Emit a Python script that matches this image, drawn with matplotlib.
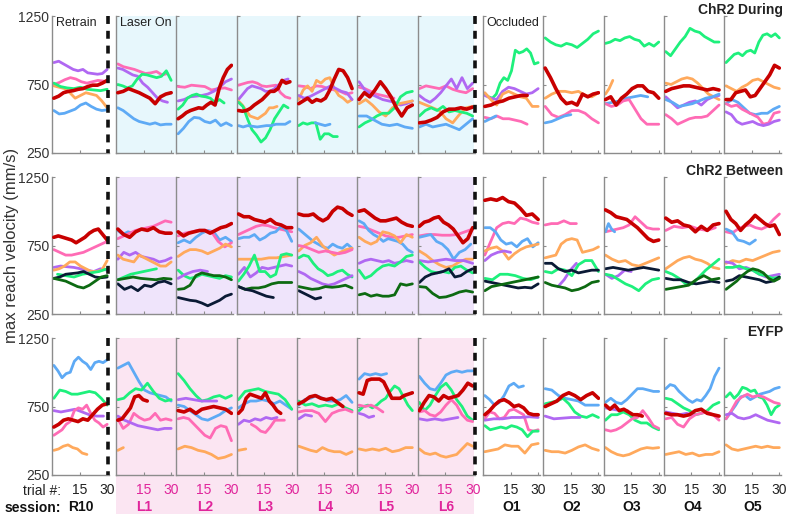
import numpy as np
import matplotlib
matplotlib.use("Agg")
import matplotlib.pyplot as plt
from matplotlib.patches import Rectangle

plt.rcParams['font.family'] = ['Liberation Sans', 'DejaVu Sans']

# ---------------- data ----------------
sessions = ["R10", "L1", "L2", "L3", "L4", "L5", "L6", "O1", "O2", "O3", "O4", "O5"]
group_titles = ["ChR2 During", "ChR2 Between", "EYFP"]
xtick_vals = [15, 30]
ytick_vals = [250, 750, 1250]

# each line: (animal colour, first trial, last trial, values)
# ----- ChR2 During -----
during_R10 = [
    ("purple", 1, 30, [910, 920, 900, 880, 860, 850, 860, 835, 830, 825, 830, 860]),
    ("pink", 1, 28, [750, 765, 785, 800, 790, 770, 760, 770, 780, 775]),
    ("orange", 1, 30, [740, 730, 720, 690, 650, 670, 690, 680, 670, 630, 580]),
    ("green", 1, 30, [760, 735, 725, 720, 730, 715, 710, 705, 715]),
    ("blue", 1, 30, [560, 535, 540, 555, 570, 600, 615, 590, 570, 560, 565]),
    ("red", 1, 30, [650, 665, 690, 700, 705, 715, 720, 735, 745, 745, 760, 780]),
]
during_L1 = [
    ("pink", 1, 28, [900, 880, 870, 860, 845, 830, 835, 845, 820, 830]),
    ("purple", 1, 28, [870, 860, 840, 820, 810, 760, 730, 690, 650, 630, 620]),
    ("green", 1, 30, [750, 740, 725, 740, 790, 825, 820, 810, 800, 810, 850, 780]),
    ("blue", 1, 30, [580, 560, 530, 500, 480, 470, 460, 470, 455, 460, 460]),
    ("red", 1, 30, [690, 700, 720, 705, 690, 670, 650, 610, 660, 680, 690]),
]
during_L2 = [
    ("pink", 1, 30, [735, 730, 745, 740, 735, 710, 720, 725, 710]),
    ("purple", 1, 30, [630, 640, 660, 665, 670, 680, 700, 730, 770, 790]),
    ("green", 1, 26, [570, 600, 650, 670, 680, 665, 660, 650, 620, 640, 615]),
    ("blue", 1, 30, [390, 430, 480, 510, 505, 480, 470, 490, 450, 470, 450]),
    ("red", 1, 30, [500, 520, 545, 560, 570, 580, 575, 600, 620, 600, 720, 800, 860, 890]),
]
during_L3 = [
    ("pink", 1, 29, [745, 755, 765, 770, 760, 740, 735, 740, 745, 690, 660, 650]),
    ("purple", 1, 28, [640, 680, 720, 740, 730, 720, 700, 700, 720, 750, 780, 790]),
    ("orange", 1, 22, [630, 600, 560, 520, 510, 500, 520, 540, 580, 580, 590]),
    ("green", 1, 28, [620, 590, 500, 420, 380, 330, 360, 420, 500, 550, 600, 580]),
    ("blue", 1, 29, [450, 440, 450, 445, 440, 445, 450, 450, 460, 460, 460, 480]),
    ("red", 1, 29, [560, 555, 560, 575, 600, 620, 640, 670, 700, 700, 720, 780, 760, 770]),
]
during_L4 = [
    ("pink", 1, 30, [740, 735, 720, 740, 735, 720, 710, 700, 680, 690]),
    ("orange", 1, 30, [640, 710, 740, 700, 780, 760, 790, 800, 720, 670, 650, 620, 640]),
    ("purple", 1, 30, [670, 650, 660, 680, 700, 720, 740, 720, 700, 690, 640]),
    ("green", 1, 22, [450, 470, 460, 470, 470, 350, 390, 390, 370, 370]),
    ("blue", 10, 18, [470, 460, 450, 460]),
    ("red", 1, 30, [610, 630, 650, 620, 640, 630, 650, 710, 790, 860, 850, 800, 720]),
]
during_L5 = [
    ("pink", 1, 20, [730, 720, 700, 680, 670, 660, 650]),
    ("purple", 1, 30, [770, 710, 680, 660, 640, 630, 620, 600, 610, 630]),
    ("orange", 1, 30, [610, 640, 600, 550, 520, 580, 610, 620, 630]),
    ("green", 1, 30, [440, 470, 490, 520, 540, 540, 580, 660, 690, 700]),
    ("blue", 1, 30, [520, 520, 490, 460, 450, 460, 440, 430]),
    ("red", 1, 30, [640, 690, 660, 710, 770, 720, 660, 580, 520, 580, 600]),
]
during_L6 = [
    ("pink", 1, 30, [720, 740, 730, 720, 740, 715, 700, 690, 720]),
    ("purple", 1, 30, [670, 640, 620, 650, 690, 740, 790, 720, 800, 720, 760]),
    ("orange", 1, 30, [620, 600, 580, 560, 500, 470, 530, 580, 590]),
    ("green", 1, 30, [520, 560, 580, 560, 590, 550, 560, 550, 540, 520]),
    ("blue", 1, 30, [440, 460, 440, 450, 460, 440, 420, 460, 500]),
    ("red", 1, 30, [470, 475, 490, 510, 550, 570, 570, 580, 570, 585]),
]
during_O1 = [
    ("green", 1, 30, [680, 660, 650, 680, 760, 800, 780, 850, 1000, 980, 990, 1010, 980, 900, 910]),
    ("purple", 1, 30, [670, 650, 640, 700, 730, 720, 700, 680, 690, 720]),
    ("orange", 1, 30, [690, 640, 600, 680, 700, 680, 660, 650, 590, 590]),
    ("pink", 1, 24, [510, 500, 520, 500, 500, 490, 480, 460]),
    ("blue", 1, 7, [480, 500, 520]),
    ("red", 1, 24, [590, 600, 620, 630, 650, 660, 670, 670]),
]
during_O2 = [
    ("green", 1, 30, [1090, 1060, 1040, 1030, 1050, 1040, 1020, 1050, 1080, 1120, 1140]),
    ("orange", 1, 30, [650, 680, 700, 700, 690, 700, 670, 660, 690]),
    ("pink", 1, 30, [590, 530, 510, 530, 560, 560, 540, 500, 470]),
    ("blue", 1, 15, [470, 480, 500, 520, 530]),
    ("red", 1, 30, [870, 800, 720, 650, 610, 620, 600, 680, 660, 680, 690]),
]
during_O3 = [
    ("green", 1, 30, [1050, 1060, 1080, 1070, 1090, 1100, 1080, 1070, 1030, 1050, 1030, 1060]),
    ("orange", 1, 5, [680, 720, 780]),
    ("blue", 1, 24, [610, 620, 630, 650, 660, 670, 660]),
    ("pink", 1, 30, [610, 590, 600, 630, 640, 570, 500, 460, 460, 460]),
    ("red", 1, 30, [640, 660, 600, 650, 680, 720, 740, 740, 700, 690, 650]),
]
during_O4 = [
    ("green", 1, 30, [990, 960, 1010, 1060, 1100, 1160, 1140, 1130, 1100, 1080, 1060, 1060]),
    ("orange", 1, 30, [760, 750, 770, 790, 800, 790, 760, 720, 680, 660, 640]),
    ("purple", 1, 30, [660, 620, 580, 600, 620, 630, 600, 640, 660, 670]),
    ("blue", 1, 30, [640, 620, 590, 600, 610, 630, 650, 660, 680]),
    ("pink", 1, 30, [530, 500, 460, 480, 500, 510, 510, 520, 560, 600]),
    ("red", 1, 30, [700, 720, 730, 740, 740, 730, 720, 710, 720, 710]),
]
during_O5 = [
    ("green", 1, 30, [910, 940, 970, 980, 960, 990, 1000, 980, 1060, 1110, 1120, 1100, 1120, 1090]),
    ("orange", 1, 30, [740, 720, 700, 730, 750, 780, 790, 770, 750, 730, 720]),
    ("blue", 1, 30, [610, 640, 620, 580, 540, 530, 540, 540, 570, 590]),
    ("pink", 1, 30, [610, 590, 600, 570, 550, 530, 510, 460, 470, 540, 550]),
    ("purple", 1, 30, [550, 530, 480, 460, 470, 480, 460, 450, 460, 480, 490]),
    ("red", 1, 30, [640, 640, 690, 700, 710, 660, 670, 720, 770, 820, 890, 870]),
]

# ----- ChR2 Between -----
between_R10 = [
    ("pink", 1, 30, [720, 700, 680, 680, 690, 700, 720, 740, 760, 780]),
    ("purple", 1, 30, [590, 600, 595, 590, 580, 570, 560, 580, 570]),
    ("orange", 1, 30, [570, 580, 600, 630, 630, 600, 580, 560, 560, 570, 640]),
    ("green", 3, 30, [540, 530, 520, 540, 550, 560, 580]),
    ("navy", 1, 30, [510, 520, 540, 545, 550, 560, 540, 520, 515, 520]),
    ("dkgreen", 1, 30, [510, 500, 490, 470, 450, 440, 460, 490, 520, 530]),
    ("red", 1, 30, [810, 820, 810, 800, 790, 770, 790, 810, 840, 860, 870, 830, 790]),
]
between_L1 = [
    ("blue", 1, 12, [860, 830, 850, 840, 860]),
    ("pink", 1, 30, [800, 820, 840, 860, 870, 880, 890, 910, 930, 920]),
    ("purple", 1, 30, [650, 700, 680, 700, 670, 660, 650, 630, 640, 660]),
    ("orange", 1, 30, [680, 650, 640, 630, 680, 660, 640, 620, 600, 600, 630]),
    ("green", 1, 22, [500, 520, 540, 550, 560, 570, 580]),
    ("dkgreen", 1, 30, [500, 510, 520, 510, 505, 500, 510, 505]),
    ("navy", 1, 30, [470, 430, 450, 420, 460, 450, 480, 490, 470]),
    ("red", 1, 30, [870, 830, 810, 850, 870, 860, 880, 850, 840, 840]),
]
between_L2 = [
    ("blue", 1, 30, [770, 790, 770, 810, 840, 860, 850, 790, 810, 780]),
    ("pink", 1, 30, [820, 840, 850, 860, 860, 850, 780, 740, 770]),
    ("orange", 1, 30, [670, 700, 720, 720, 710, 690, 710, 730, 760, 740]),
    ("green", 1, 30, [570, 530, 510, 520, 540, 530, 520, 510, 530, 520]),
    ("purple", 1, 17, [510, 540, 560, 570, 560]),
    ("dkgreen", 1, 30, [430, 435, 460, 530, 550, 540, 530, 530, 520, 500]),
    ("navy", 1, 30, [370, 360, 350, 345, 330, 310, 330, 350, 380, 395]),
    ("red", 1, 30, [850, 820, 840, 850, 860, 860, 840, 860, 880, 890, 910]),
]
between_L3 = [
    ("pink", 1, 30, [830, 850, 870, 890, 900, 895, 880, 870, 860, 850]),
    ("blue", 1, 30, [800, 810, 810, 830, 790, 810, 840, 850, 890, 860, 780]),
    ("orange", 1, 30, [650, 650, 650, 650, 660, 660, 670, 680]),
    ("purple", 1, 30, [540, 590, 520, 550, 590, 580, 590, 600, 610, 600]),
    ("green", 1, 30, [490, 540, 600, 680, 560, 560, 520, 540, 680, 690, 680]),
    ("dkgreen", 1, 30, [450, 430, 440, 440, 450, 470, 480, 480, 480]),
    ("navy", 1, 20, [450, 430, 420, 400, 380, 370]),
    ("red", 1, 30, [980, 960, 960, 940, 930, 920, 940, 910, 900, 880, 880]),
]
between_L4 = [
    ("blue", 1, 30, [870, 840, 810, 780, 760, 740, 730, 760, 740, 730, 760, 730]),
    ("orange", 1, 30, [710, 750, 770, 810, 750, 710, 680, 700, 720, 730]),
    ("pink", 1, 30, [750, 740, 720, 700, 710, 700, 690, 700, 720]),
    ("green", 1, 30, [660, 680, 670, 620, 580, 560, 530, 540, 560, 570, 540, 520]),
    ("purple", 1, 30, [560, 540, 510, 490, 470, 460, 470, 490, 510, 530]),
    ("dkgreen", 1, 30, [450, 440, 430, 435, 450, 445, 450, 460, 440]),
    ("navy", 1, 13, [420, 400, 380, 360, 370]),
    ("red", 1, 30, [980, 970, 970, 980, 950, 930, 950, 1000, 1030, 1020, 990, 970]),
]
between_L5 = [
    ("pink", 1, 30, [890, 880, 860, 840, 820, 810, 810, 820, 830]),
    ("blue", 1, 30, [930, 910, 860, 830, 810, 780, 800, 790, 780, 760, 720, 700]),
    ("orange", 1, 30, [810, 780, 760, 780, 850, 840, 820, 770, 830, 810]),
    ("purple", 1, 30, [620, 640, 650, 640, 630, 640, 620, 630, 640, 630]),
    ("green", 1, 30, [570, 510, 530, 570, 600, 610, 600, 630, 670, 680]),
    ("dkgreen", 1, 30, [390, 400, 380, 390, 380, 380, 390, 470, 460, 470]),
    ("red", 1, 30, [1000, 1010, 980, 950, 930, 930, 940, 950, 920, 900, 890]),
]
between_L6 = [
    ("pink", 1, 30, [820, 830, 830, 825, 825, 830, 850, 870]),
    ("blue", 1, 29, [810, 820, 830, 780, 760, 720, 650, 700, 720, 760]),
    ("orange", 1, 30, [710, 680, 640, 610, 590, 600, 630, 650, 650]),
    ("purple", 1, 30, [640, 630, 640, 650, 640, 640, 620]),
    ("green", 1, 30, [630, 590, 560, 550, 560, 550, 590, 600, 570, 550]),
    ("navy", 1, 30, [480, 520, 540, 550, 560, 580, 520, 530, 560, 580]),
    ("dkgreen", 1, 30, [450, 445, 400, 370, 375, 390, 410, 420, 410]),
    ("red", 1, 30, [890, 920, 930, 950, 960, 920, 900, 870, 820, 770, 800, 880]),
]
between_O1 = [
    ("pink", 1, 30, [680, 780, 880, 910, 920, 910, 950, 940, 920, 910]),
    ("blue", 1, 30, [880, 880, 850, 790, 760, 770, 740, 780, 800, 740, 770]),
    ("orange", 1, 30, [710, 730, 740, 710, 650, 690, 720, 740, 750, 760]),
    ("purple", 1, 15, [640, 680, 700, 710, 700]),
    ("green", 1, 30, [510, 500, 540, 540, 530, 510, 500, 520]),
    ("navy", 1, 30, [490, 480, 470, 460, 450, 440, 445, 440, 470]),
    ("dkgreen", 1, 30, [420, 450, 460, 470, 480, 490, 500, 510, 520]),
    ("red", 1, 30, [1080, 1090, 1080, 1100, 1070, 1060, 1020, 970, 980, 940]),
]
between_O2 = [
    ("pink", 1, 18, [900, 910, 910, 930, 910, 910]),
    ("orange", 1, 30, [660, 670, 680, 760, 790, 800, 790, 700, 710, 720, 740]),
    ("purple", 8, 18, [450, 500, 570, 620]),
    ("green", 1, 30, [560, 550, 580, 570, 530, 610, 640, 640, 560]),
    ("navy", 1, 30, [620, 620, 580, 560, 570, 550, 560, 570, 570]),
    ("dkgreen", 1, 30, [480, 460, 450, 440, 420, 430, 450, 480, 490]),
]
between_O3 = [
    ("pink", 1, 30, [850, 860, 870, 880, 900, 960, 920, 880, 870, 870]),
    ("blue", 1, 6, [850, 910, 870, 850]),
    ("orange", 1, 30, [680, 650, 630, 640, 610, 600, 620, 640, 660]),
    ("purple", 1, 15, [540, 510, 530, 570, 560]),
    ("green", 1, 30, [540, 530, 500, 470, 450, 420, 470, 500, 510]),
    ("navy", 1, 30, [580, 590, 580, 570, 580, 590, 580, 570]),
    ("red", 1, 30, [1010, 990, 960, 950, 940, 910, 880, 840, 800, 780, 790]),
]
between_O4 = [
    ("pink", 1, 28, [860, 890, 880, 890, 870, 860, 880]),
    ("orange", 1, 30, [580, 610, 640, 660, 670, 650, 640, 620, 590, 580]),
    ("green", 1, 30, [560, 540, 510, 470, 470, 520, 570, 610, 650]),
    ("navy", 1, 30, [510, 500, 500, 480, 470, 480, 490, 480]),
    ("dkgreen", 1, 30, [430, 440, 450, 460, 500, 530, 500, 510]),
    ("red", 1, 30, [950, 920, 930, 900, 890, 850, 890, 860, 900, 910]),
]
between_O5 = [
    ("pink", 1, 30, [850, 840, 870, 890, 900, 880, 870, 890, 940, 980]),
    ("blue", 1, 17, [870, 850, 790, 780, 760, 790]),
    ("orange", 1, 30, [620, 640, 630, 650, 640, 660, 680, 700, 710]),
    ("purple", 1, 30, [630, 620, 580, 590, 570, 540, 520, 530, 540]),
    ("green", 1, 30, [590, 590, 600, 580, 570, 540, 530, 510, 520]),
    ("navy", 1, 30, [490, 500, 530, 520, 510, 500, 480, 490, 520]),
    ("dkgreen", 1, 30, [430, 460, 490, 530, 560, 580, 570, 550, 510, 490, 510]),
    ("red", 1, 30, [1000, 940, 910, 860, 900, 930, 970, 940, 910, 890, 900, 830]),
]

# ----- EYFP -----
eyfp_R10 = [
    ("blue", 1, 30, [1050, 1010, 960, 990, 1000, 1080, 1110, 1080, 1060, 1020, 1070, 1080, 1070, 1090]),
    ("green", 1, 30, [810, 870, 860, 840, 840, 850, 860, 850, 810, 760]),
    ("purple", 1, 28, [720, 710, 720, 730, 710, 690, 680, 680]),
    ("pink", 1, 30, [540, 560, 580, 620, 640, 720, 740, 730, 760, 700, 650, 630, 600, 620]),
    ("orange", 1, 19, [430, 440, 460, 470, 450, 440, 410, 400]),
    ("red", 1, 30, [600, 620, 650, 660, 650, 640, 660, 650, 690, 730, 760, 770]),
]
eyfp_L1 = [
    ("blue", 1, 30, [1030, 1050, 1070, 1000, 930, 870, 850, 840, 830, 820, 790]),
    ("green", 1, 30, [800, 810, 850, 880, 870, 920, 860, 810, 790, 800]),
    ("pink", 1, 30, [660, 590, 620, 700, 670, 650, 660, 700, 650, 660, 650]),
    ("purple", 1, 30, [680, 650, 630, 610, 600, 590, 580, 590, 590]),
    ("orange", 1, 4, [430, 440, 450]),
    ("red", 1, 17, [650, 660, 700, 740, 820, 830, 800, 790]),
]
eyfp_L2 = [
    ("green", 1, 30, [990, 940, 880, 830, 790, 800, 820, 830, 810, 830]),
    ("purple", 1, 22, [800, 810, 800, 790, 790, 790]),
    ("blue", 1, 30, [760, 750, 720, 690, 660, 650, 670, 690, 720, 740]),
    ("pink", 1, 30, [660, 670, 660, 620, 580, 540, 520, 590, 610, 600, 500]),
    ("orange", 1, 30, [440, 460, 450, 430, 420, 400, 370, 380, 400]),
    ("red", 1, 30, [720, 710, 730, 700, 730, 740, 750, 740, 730, 700]),
]
eyfp_L3 = [
    ("blue", 1, 30, [740, 770, 790, 790, 800, 790, 770, 790, 760, 730]),
    ("green", 1, 30, [800, 860, 870, 880, 860, 850, 840, 800, 730]),
    ("purple", 1, 22, [620, 650, 640, 660, 650, 670, 660, 670]),
    ("pink", 8, 26, [620, 600, 570, 560, 600, 650, 650, 650]),
    ("orange", 1, 5, [430, 440]),
    ("red", 1, 24, [700, 730, 810, 840, 830, 820, 810, 850, 790, 760, 720, 700]),
]
eyfp_L4 = [
    ("blue", 1, 30, [760, 800, 810, 830, 810, 790, 790, 800, 830, 780]),
    ("green", 1, 30, [790, 760, 770, 750, 760, 750, 770, 740, 720]),
    ("pink", 1, 30, [710, 720, 720, 700, 640, 700, 720, 730, 710]),
    ("purple", 1, 8, [660, 690, 680]),
    ("orange", 1, 30, [460, 445, 430, 420, 450, 430, 420, 420, 400, 420]),
    ("red", 1, 25, [770, 790, 820, 830, 810, 800, 810, 780, 750]),
]
eyfp_L5 = [
    ("blue", 1, 16, [950, 990, 980, 990, 980, 990]),
    ("green", 1, 30, [720, 750, 760, 740, 760, 790, 810, 860, 900, 880, 820, 760, 720]),
    ("pink", 1, 14, [760, 750, 760, 740, 710]),
    ("purple", 1, 9, [700, 690, 670, 680]),
    ("orange", 1, 30, [440, 430, 440, 430, 445, 420, 430, 450, 450]),
    ("red", 1, 30, [850, 840, 940, 950, 950, 950, 930, 870, 810, 810, 810, 830, 840, 850]),
]
eyfp_L6 = [
    ("blue", 1, 30, [970, 920, 880, 870, 920, 980, 1000, 1010, 1000, 1010, 1010]),
    ("green", 1, 30, [780, 720, 760, 830, 890, 920, 870, 800, 750, 680, 650]),
    ("pink", 1, 30, [710, 720, 690, 680, 710, 760, 800, 760, 690, 650, 640]),
    ("purple", 1, 22, [660, 650, 660, 650, 660, 670]),
    ("orange", 1, 30, [440, 410, 400, 410, 390, 380, 390, 400, 440, 480, 460]),
    ("red", 1, 30, [720, 780, 830, 820, 790, 830, 810, 820, 830, 870, 920, 900]),
]
eyfp_O1 = [
    ("blue", 1, 22, [830, 800, 760, 780, 830, 900, 920, 890, 900]),
    ("pink", 1, 30, [660, 710, 700, 660, 670, 720, 730, 710, 690, 580, 570, 580]),
    ("purple", 1, 30, [650, 660, 660, 670, 670, 675, 670]),
    ("green", 1, 30, [610, 580, 590, 600, 590, 610, 600, 580, 530, 570, 570]),
    ("orange", 1, 30, [420, 430, 440, 470, 460, 460, 410, 470, 480]),
    ("red", 1, 30, [690, 720, 760, 790, 800, 780, 750, 760, 740, 700, 690, 690]),
]
eyfp_O2 = [
    ("blue", 1, 30, [880, 870, 830, 810, 800, 790, 760, 760, 760]),
    ("green", 1, 30, [770, 780, 790, 810, 770, 710, 680, 670, 690, 670]),
    ("purple", 1, 20, [680, 660, 665, 670, 670]),
    ("orange", 1, 30, [430, 420, 420, 410, 430, 455, 470, 445, 430]),
    ("red", 1, 30, [750, 770, 790, 830, 850, 830, 800, 830, 850, 810]),
]
eyfp_O3 = [
    ("blue", 1, 30, [780, 810, 780, 770, 800, 840, 880, 880, 870, 860, 860]),
    ("purple", 1, 13, [740, 730, 720, 720]),
    ("green", 1, 30, [650, 690, 690, 710, 690, 650, 630, 630, 600, 580]),
    ("pink", 1, 30, [580, 570, 580, 600, 630, 660, 670, 720, 670, 610, 590]),
    ("orange", 1, 30, [450, 420, 400, 390, 400, 420, 440, 450, 445, 450]),
    ("red", 1, 21, [760, 730, 760, 720, 730, 710, 690, 690, 680]),
]
eyfp_O4 = [
    ("blue", 1, 30, [880, 910, 900, 860, 830, 800, 780, 800, 790, 830, 880, 970, 1030]),
    ("green", 1, 30, [810, 800, 770, 740, 720, 690, 700, 720, 760, 780]),
    ("purple", 1, 16, [710, 700, 690, 700, 690]),
    ("pink", 1, 30, [660, 670, 620, 600, 660, 690, 700, 710, 690, 650]),
    ("orange", 1, 30, [400, 410, 420, 400, 410, 390, 400, 400, 420]),
    ("red", 1, 30, [700, 690, 690, 680, 690, 720, 730, 700, 690, 680]),
]
eyfp_O5 = [
    ("green", 1, 30, [820, 850, 810, 840, 890, 880, 860, 870, 820, 810, 760, 690, 740, 760]),
    ("blue", 1, 30, [660, 710, 760, 820, 830, 800, 820, 840, 850, 860, 880, 890]),
    ("pink", 1, 30, [660, 720, 790, 820, 840, 820, 830, 820, 800, 780, 770]),
    ("purple", 1, 30, [690, 700, 670, 660, 670, 690, 670, 650, 640, 630]),
    ("orange", 1, 30, [470, 440, 430, 440, 450, 460, 450, 460, 450, 450]),
]

during = [during_R10, during_L1, during_L2, during_L3, during_L4, during_L5, during_L6,
          during_O1, during_O2, during_O3, during_O4, during_O5]
between = [between_R10, between_L1, between_L2, between_L3, between_L4, between_L5, between_L6,
           between_O1, between_O2, between_O3, between_O4, between_O5]
eyfp = [eyfp_R10, eyfp_L1, eyfp_L2, eyfp_L3, eyfp_L4, eyfp_L5, eyfp_L6,
        eyfp_O1, eyfp_O2, eyfp_O3, eyfp_O4, eyfp_O5]
groups = [during, between, eyfp]

# ---------------- style ----------------
COLORS = {
    "purple": "#B068F2",
    "pink": "#FF6BB5",
    "red": "#C80000",
    "green": "#1EF07C",
    "orange": "#FFA95C",
    "blue": "#5EAAF5",
    "dkgreen": "#0D6A12",
    "navy": "#0A1A35",
}
SHADES = ["#E7F7FC", "#EFE4FB", "#FBE5F2"]
MAGENTA = "#E0259B"
AXCOL = "#8C8C8C"

W, H = 787, 514
fig = plt.figure(figsize=(W / 100, H / 100), dpi=100)

def rect(left, top, w, h):
    return [left / W, 1 - (top + h) / H, w / W, h / H]

bg = fig.add_axes([0, 0, 1, 1], zorder=-10)
bg.set_xlim(0, W); bg.set_ylim(H, 0); bg.axis("off")
ov = fig.add_axes([0, 0, 1, 1], zorder=10)
ov.set_xlim(0, W); ov.set_ylim(H, 0); ov.axis("off"); ov.patch.set_alpha(0)

col_left = [52] + [116 + 60.3 * i for i in range(6)] + [483 + 60.3 * i for i in range(5)]
row_top = [16, 177, 338]
AW, AH = 57, 137

for r, grp in enumerate(groups):
    top = row_top[r]
    shade_h = AH if r < 2 else H - top
    bg.add_patch(Rectangle((116, top), 474 - 116, shade_h, color=SHADES[r], lw=0))
    for xd in (108, 474.5):
        ov.plot([xd, xd], [top, top + AH], color="#111111", lw=2.6,
                linestyle=(0, (2.2, 1.9)), solid_capstyle="butt")
    ov.text(783, top - 6, group_titles[r], ha="right", va="center",
            fontsize=10, fontweight="bold", color="#222222")
    for c, lines in enumerate(grp):
        ax = fig.add_axes(rect(col_left[c], top, AW, AH))
        ax.set_facecolor("none")
        for key, t0, t1, vals in lines:
            x = np.linspace(t0, t1, len(vals))
            ax.plot(x, vals, color=COLORS[key], lw=2.6 if key == "red" else 2.0,
                    zorder=3 if key == "red" else 2, solid_capstyle="round",
                    solid_joinstyle="round")
        ax.set_xlim(0, 31)
        ax.set_ylim(250, 1250)
        for s in ("top", "right"):
            ax.spines[s].set_visible(False)
        for s in ("left", "bottom"):
            ax.spines[s].set_color(AXCOL)
            ax.spines[s].set_linewidth(1.0)
        ax.set_xticks(xtick_vals)
        ax.set_yticks(ytick_vals)
        ax.tick_params(direction="in", length=2.5, width=0.8, color=AXCOL,
                       labelsize=10, labelcolor="#333333", pad=2)
        if c != 0:
            ax.set_yticklabels([])
        if r < 2:
            ax.set_xticklabels([])
        else:
            ax.tick_params(axis="x", pad=6,
                           labelcolor=MAGENTA if sessions[c].startswith("L") else "#222222")
            ax.text(0.5, -0.235, sessions[c], transform=ax.transAxes, ha="center", va="center",
                    fontsize=10, fontweight="bold",
                    color=MAGENTA if sessions[c].startswith("L") else "#111111")

ov.text(56, 23, "Retrain", ha="left", va="center", fontsize=9, color="#222222")
ov.text(120, 23, "Laser On", ha="left", va="center", fontsize=9, color="#222222")
ov.text(486, 23, "Occluded", ha="left", va="center", fontsize=9, color="#222222")

ov.text(61, 491, "trial #:", ha="right", va="center", fontsize=10, color="#222222")
ov.text(61, 508, "session:", ha="right", va="center", fontsize=10, fontweight="bold", color="#111111")
ov.text(12, 245, "max reach velocity (mm/s)", rotation=90, ha="center", va="center",
        fontsize=12, color="#333333")

fig.savefig("out.png", dpi=100)
